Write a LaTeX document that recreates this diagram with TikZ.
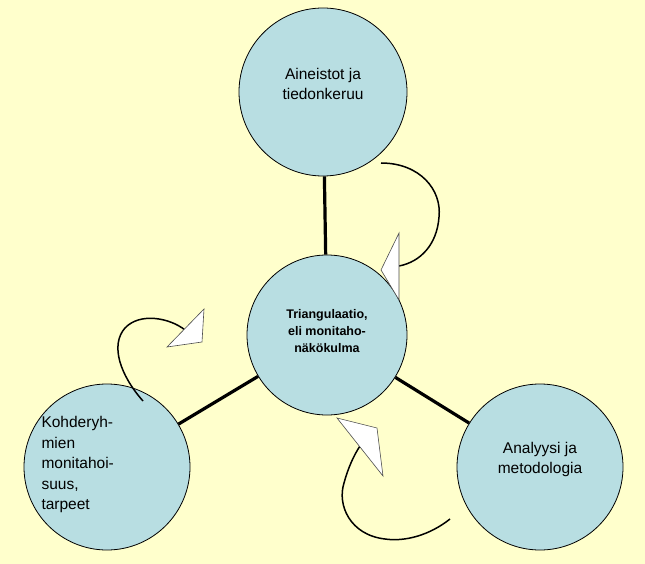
\documentclass[tikz,border=0pt]{standalone}
\usepackage{fontspec}
\setmainfont{Liberation Sans}
\definecolor{bgy}{RGB}{255,255,204}
\definecolor{cfill}{RGB}{184,222,226}
\begin{document}
\begin{tikzpicture}[x=1pt,y=-1pt,
  circ/.style={circle,draw=black,line width=0.8pt,fill=cfill,minimum size=#1,inner sep=0pt},
  link/.style={line width=3.2pt},
  curv/.style={line width=1.5pt,black},
  head/.style={draw=black!70,fill=white,line width=0.6pt},
  lbl/.style={font=\fontsize{15.5}{20}\selectfont,align=center}]
\useasboundingbox[fill=bgy] (0,0) rectangle (645,564);
\node[circ=168pt] (top) at (323,92) {};
\node[circ=160pt] (mid) at (327,335) {};
\node[circ=166pt] (bl) at (107,467) {};
\node[circ=166pt] (br) at (540,467) {};
\node[lbl] (ttop) at (323,84) {Aineistot ja\\tiedonkeruu};
\node[font=\bfseries\fontsize{12.5}{17}\selectfont,align=center] (tmid) at (327,331) {Triangulaatio,\\eli monitaho-\\näkökulma};
\node[lbl,align=left,anchor=north west,font=\fontsize{15.5}{20.5}\selectfont] (tbl) at (38,413) {Kohderyh-\\mien\\monitahoi-\\suus,\\tarpeet};
\node[lbl] (tbr) at (540,459) {Analyysi ja\\metodologia};
\draw[link] (top) -- (mid);
\draw[link] (mid) -- (bl);
\draw[link] (mid) -- (br);
% curved arrows
\coordinate (a1s) at (381,163);
\coordinate (a1e) at (399,266);
\draw[curv] (a1s) .. controls (420,163) and (442,190) .. (439,217) .. controls (437,245) and (420,262) .. (a1e);
\draw[head] (381,270) -- (399,233) -- (399,300) -- cycle;
\coordinate (a2s) at (143,401);
\coordinate (a2e) at (185,330);
\draw[curv] (a2s) .. controls (120,375) and (110,345) .. (125,328) .. controls (140,312) and (170,318) .. (a2e);
\draw[head] (167,347) -- (204,309) -- (202,342) -- cycle;
\coordinate (a3s) at (450,519);
\coordinate (a3e) at (360,446);
\draw[curv] (a3s) .. controls (430,535) and (405,542) .. (385,539) .. controls (350,535) and (337,505) .. (344,483) .. controls (348,468) and (354,455) .. (a3e);
\draw[head] (337,418) -- (377,428) -- (383,476) -- cycle;
\end{tikzpicture}
\end{document}
